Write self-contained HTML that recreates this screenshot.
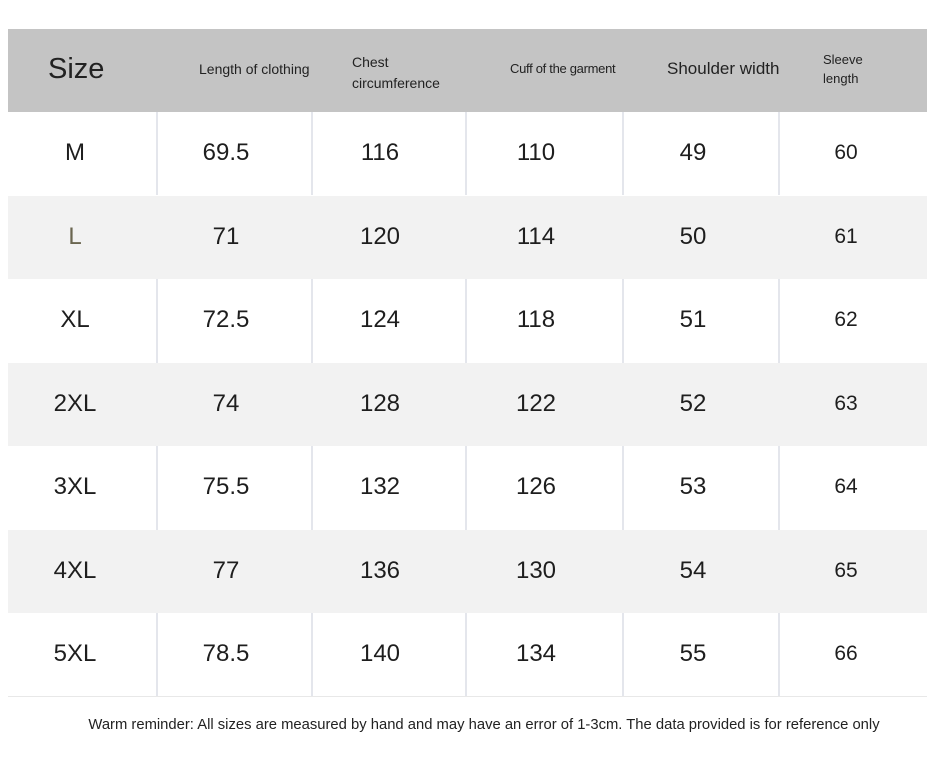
<!DOCTYPE html>
<html><head><meta charset="utf-8"><style>
body{margin:0;width:951px;height:764px;background:#fff;position:relative;overflow:hidden;font-family:"Liberation Sans",sans-serif;color:#1e1e1e}
.bg{position:absolute;left:8px;width:919px}
.v{position:absolute;top:112px;width:2px;background:#e4e6ec}
.t{position:absolute;transform:translate(-50%,-50%);white-space:nowrap}
.h{position:absolute;white-space:nowrap;color:#222}
</style></head><body>
<div class="bg" style="top:29px;height:83px;background:#c4c4c4"></div>
<div class="bg" style="top:112px;height:584px;background:#fff;border-bottom:1px solid #e8e8e8"></div>
<div class="bg" style="top:196px;height:83px;background:#f2f2f2"></div>
<div class="bg" style="top:363px;height:83px;background:#f2f2f2"></div>
<div class="bg" style="top:530px;height:83px;background:#f2f2f2"></div>
<div class="v" style="left:156px;height:83px"></div><div class="v" style="left:311px;height:83px"></div><div class="v" style="left:465px;height:83px"></div><div class="v" style="left:622px;height:83px"></div><div class="v" style="left:778px;height:83px"></div>
<div class="v" style="left:156px;top:279px;height:84px"></div><div class="v" style="left:311px;top:279px;height:84px"></div><div class="v" style="left:465px;top:279px;height:84px"></div><div class="v" style="left:622px;top:279px;height:84px"></div><div class="v" style="left:778px;top:279px;height:84px"></div>
<div class="v" style="left:156px;top:446px;height:84px"></div><div class="v" style="left:311px;top:446px;height:84px"></div><div class="v" style="left:465px;top:446px;height:84px"></div><div class="v" style="left:622px;top:446px;height:84px"></div><div class="v" style="left:778px;top:446px;height:84px"></div>
<div class="v" style="left:156px;top:613px;height:83px"></div><div class="v" style="left:311px;top:613px;height:83px"></div><div class="v" style="left:465px;top:613px;height:83px"></div><div class="v" style="left:622px;top:613px;height:83px"></div><div class="v" style="left:778px;top:613px;height:83px"></div>

<div class="h" style="left:48px;top:53px;font-size:29px">Size</div>
<div class="h" style="left:199px;top:61px;font-size:14px">Length of clothing</div>
<div class="h" style="left:352px;top:52px;font-size:14px;line-height:21px">Chest<br>circumference</div>
<div class="h" style="left:510px;top:61px;font-size:13px;letter-spacing:-0.3px">Cuff of the garment</div>
<div class="h" style="left:667px;top:59px;font-size:17px">Shoulder width</div>
<div class="h" style="left:823px;top:50px;font-size:13px;line-height:19px">Sleeve<br>length</div>

<div id="rows"></div>
<div class="t" style="left:484px;top:725px;font-size:14.8px;color:#222">Warm reminder: All sizes are measured by hand and may have an error of 1-3cm. The data provided is for reference only</div>
<script>
var d=[["M","69.5","116","110","49","60"],["L","71","120","114","50","61"],["XL","72.5","124","118","51","62"],["2XL","74","128","122","52","63"],["3XL","75.5","132","126","53","64"],["4XL","77","136","130","54","65"],["5XL","78.5","140","134","55","66"]];
var xs=[75,226,380,536,693,846],h="";
d.forEach(function(r,i){var y=153+i*83.5;r.forEach(function(c,j){h+='<div class="t" style="left:'+xs[j]+'px;top:'+y+'px;font-size:'+(j==5?21:24)+'px;'+(i==1&&j==0?'color:#6a6650':'')+'">'+c+'</div>';});});
document.getElementById("rows").innerHTML=h;
</script>
</body></html>
